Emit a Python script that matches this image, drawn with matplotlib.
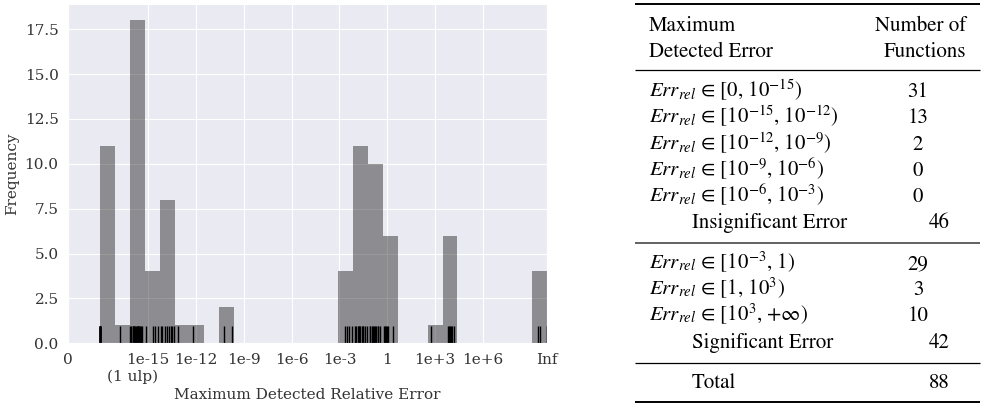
import matplotlib
matplotlib.use("Agg")
import matplotlib.pyplot as plt
import matplotlib.transforms as mtransforms
import seaborn as sns

# ---- data: log10(maximum detected relative error) per function ----
# "0" shown at -20 side; zero errors plotted at -18, Inf plotted at 10
bin_edges_range = (-18.0, 10.0)
n_bins = 30
err_exact = [-18.0, -18.0, -18.0, -18.0, -18.0, -18.0, -18.0, -18.0, -18.0, -18.0, -18.0]
err_sub_ulp = [-16.75]
err_ulp = [-16.1, -16.05, -15.95, -15.95, -15.95, -15.9, -15.85, -15.8, -15.75,
           -15.7, -15.65, -15.65, -15.65, -15.6, -15.55, -15.5, -15.45, -15.35]
err_small = [-15.1, -14.68, -14.55, -14.36,
             -14.2, -14.1, -13.95, -13.8, -13.68, -13.55, -13.5, -13.4,
             -13.1, -12.19]
err_mid = [-10.25, -9.73]
err_large = [-2.65, -2.55, -2.4, -2.2,
             -2.05, -1.95, -1.85, -1.8, -1.75, -1.7, -1.6, -1.55, -1.5, -1.4, -1.3,
             -1.1, -1.05, -0.95, -0.9, -0.85, -0.75, -0.7, -0.6, -0.55, -0.45,
             -0.22, -0.15, -0.08, -0.03]
err_huge = [0.06, 0.39, 2.73,
            3.8, 3.85, 3.94, 4.0, 4.09, 4.19]
err_inf = [9.45, 9.58, 10.0, 10.0]

tick_pos = [-20, -15, -12, -9, -6, -3, 0, 3, 6, 10]
tick_labels = ["0", "1e-15", "1e-12", "1e-9", "1e-6", "1e-3", "1", "1e+3", "1e+6", "Inf"]
ulp_pos = -16
ulp_label = "(1 ulp)"

# ---- table data ----
hdr_left = ["Maximum", "Detected Error"]
hdr_right = ["Number of", "Functions"]
insig_ranges = [r"[0, 10$^{-15}$)", r"[10$^{-15}$, 10$^{-12}$)", r"[10$^{-12}$, 10$^{-9}$)",
                r"[10$^{-9}$, 10$^{-6}$)", r"[10$^{-6}$, 10$^{-3}$)"]
insig_counts = [31, 13, 2, 0, 0]
insig_total = 46
sig_ranges = [r"[10$^{-3}$, 1)", r"[1, 10$^{3}$)", r"[10$^{3}$, +∞)"]
sig_counts = [29, 3, 10]
sig_total = 42
grand_total = 88

values = err_exact + err_sub_ulp + err_ulp + err_small + err_mid + err_large + err_huge + err_inf

sns.set_style("darkgrid")
plt.rcParams['font.family'] = ['DejaVu Serif']
plt.rcParams['mathtext.fontset'] = 'stix'

W, H = 982, 407
fig = plt.figure(figsize=(W / 100, H / 100), dpi=100)
ax = fig.add_axes([68.3 / W, 1 - 343.3 / H, (546.7 - 68.3) / W, (343.3 - 4) / H])

ax.hist(values, bins=n_bins, range=bin_edges_range, color="k", alpha=0.4, lw=0)
trans = mtransforms.blended_transform_factory(ax.transData, ax.transAxes)
ax.vlines(values, 0, 0.05, transform=trans, color="k", lw=1.0)

fs = 11
ax.set_xlim(-20, 10)
ax.set_ylim(0, 18.9)
ax.set_xticks(tick_pos)
ax.set_xticklabels(tick_labels)
ax.tick_params(axis="both", which="both", labelsize=fs, colors="#333333")
ax.text(ulp_pos, -0.078, ulp_label, transform=trans, ha="center", va="top",
        fontsize=fs, color="#333333")
ax.set_xlabel("Maximum Detected Relative Error", fontsize=fs, color="#333333", labelpad=15)
ax.set_ylabel("Frequency", fontsize=fs, color="#333333")

# ---- table, drawn in pixel coordinates ----
tax = fig.add_axes([0, 0, 1, 1])
tax.set_xlim(0, W)
tax.set_ylim(H, 0)
tax.axis("off")

tfont = dict(family="STIXGeneral", fontsize=15, color="black", va="baseline")
x_left, x_indent, x_num1, x_num2, x_hdr_r = 649, 692, 918, 939.5, 966
x_rule0, x_rule1 = 635, 980

tax.text(x_left, 31, hdr_left[0], ha="left", **tfont)
tax.text(x_left, 57, hdr_left[1], ha="left", **tfont)
tax.text(x_hdr_r, 31, hdr_right[0], ha="right", **tfont)
tax.text(x_hdr_r, 57, hdr_right[1], ha="right", **tfont)

err_sym = r"$\mathit{Err}_{\mathit{rel}}$ ∈ "
row_y1 = [97, 123, 150, 176, 202]
for y, lab, c in zip(row_y1, insig_ranges, insig_counts):
    tax.text(x_left, y, err_sym + lab, ha="left", **tfont)
    tax.text(x_num1, y, str(c), ha="center", **tfont)
tax.text(x_indent, 228, "Insignificant Error", ha="left", **tfont)
tax.text(x_num2, 228, str(insig_total), ha="center", **tfont)

row_y2 = [269, 295, 321]
for y, lab, c in zip(row_y2, sig_ranges, sig_counts):
    tax.text(x_left, y, err_sym + lab, ha="left", **tfont)
    tax.text(x_num1, y, str(c), ha="center", **tfont)
tax.text(x_indent, 348, "Significant Error", ha="left", **tfont)
tax.text(x_num2, 348, str(sig_total), ha="center", **tfont)

tax.text(x_indent, 388, "Total", ha="left", **tfont)
tax.text(x_num2, 388, str(grand_total), ha="center", **tfont)

tax.plot([x_rule0, x_rule1], [4, 4], color="black", lw=1.4, solid_capstyle="butt")
tax.plot([x_rule0, x_rule1], [70, 70], color="black", lw=0.9, solid_capstyle="butt")
tax.plot([x_rule0, x_rule1], [243.3, 243.3], color="#555555", lw=1.3, solid_capstyle="butt")
tax.plot([x_rule0, x_rule1], [363.3, 363.3], color="black", lw=0.9, solid_capstyle="butt")
tax.plot([x_rule0, x_rule1], [401.7, 401.7], color="black", lw=1.4, solid_capstyle="butt")

fig.savefig("out.png", dpi=100)
